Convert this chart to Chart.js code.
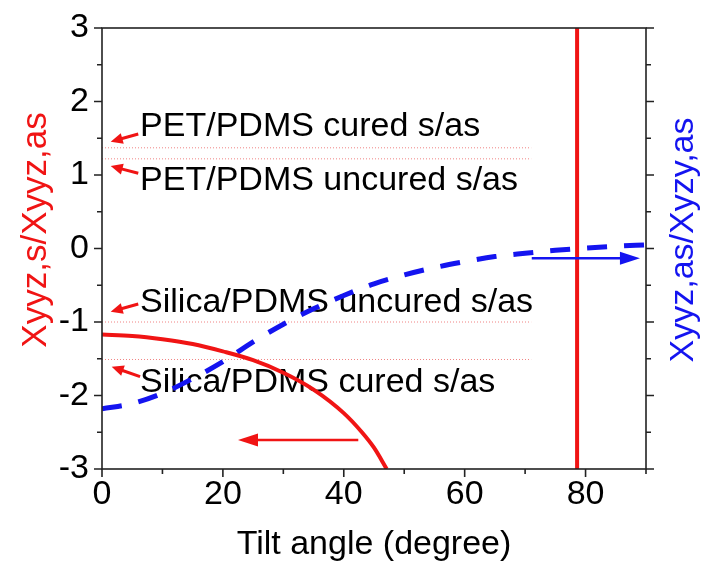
<!DOCTYPE html>
<html>
<head>
<meta charset="utf-8">
<script src="https://cdn.jsdelivr.net/npm/chart.js@4.4.1/dist/chart.umd.min.js"></script>
<style>
  html, body { margin: 0; padding: 0; background: #fff; }
  #wrap { width: 704px; height: 564px; }
</style>
</head>
<body>
<div id="wrap"><canvas id="c" width="704" height="564"></canvas></div>
<script>
// Symmetric / antisymmetric ratio (left axis), red solid curve
const sAngle = [0, 5, 10, 15, 20, 25, 30, 35, 40, 43, 45, 47.1];
const sRatio = [-1.17, -1.19, -1.235, -1.30, -1.40, -1.52, -1.69, -1.92, -2.24, -2.50, -2.71, -3.0];

// Antisymmetric ratio (right axis), blue dashed curve
const asAngle = [0, 5, 10, 15, 20, 25, 30, 35, 40, 45, 50, 55, 60, 65, 70, 75, 80, 85, 90];
const asRatio = [-2.18, -2.11, -1.97, -1.77, -1.54, -1.27, -1.03, -0.82, -0.64, -0.48, -0.36, -0.26, -0.18, -0.11, -0.065, -0.025, 0.005, 0.03, 0.05];

// Vertical marker line
const markerAngle = 78.6;

// Measured s/as levels (dotted reference lines)
const refLevels = [1.37, 1.22, -1.0, -1.51];
const refStart = 0;
const refEnd = 71;

// Sample labels
const sampleNames = ['PET/PDMS cured s/as', 'PET/PDMS uncured s/as', 'Silica/PDMS uncured s/as', 'Silica/PDMS cured s/as'];
const nameAngle = [6.3, 6.3, 6.3, 6.3];
const nameLevel = [1.53, 0.80, -0.86, -1.95];

// Pointer arrows: start -> tip
const arrowX0 = [6.0, 6.0, 6.0, 6.3, 42.4, 71.1];
const arrowY0 = [1.558, 1.023, -0.755, -1.744, -2.605, -0.133];
const arrowX1 = [1.44, 1.44, 1.44, 1.6, 22.5, 89.0];
const arrowY1 = [1.453, 1.122, -0.86, -1.608, -2.605, -0.133];
const arrowColor = ['#f01414', '#f01414', '#f01414', '#f01414', '#f01414', '#1414f0'];
const arrowSize = ['s', 's', 's', 's', 'l', 'l'];

// Axis ranges and ticks
const xRange = [0, 90];
const yRange = [-3, 3];
const xMajor = [0, 20, 40, 60, 80];
const xMinor = [10, 30, 50, 70, 90];
const yMajor = [-3, -2, -1, 0, 1, 2, 3];
const yMinor = [-2.5, -1.5, -0.5, 0.5, 1.5, 2.5];

const xTitle = 'Tilt angle (degree)';
const yTitle = 'Xyyz,s/Xyyz,as';
const y2Title = 'Xyyz,as/Xyzy,as';

const RED = '#f01414';
const BLUE = '#1414f0';
const FONT = '"Liberation Sans", Arial, sans-serif';

const pts = (xs, ys) => xs.map((x, i) => ({ x, y: ys[i] }));

const datasets = [
  { data: pts(sAngle, sRatio), yAxisID: 'y', borderColor: RED, borderWidth: 4, cubicInterpolationMode: 'monotone' },
  { data: [{ x: markerAngle, y: yRange[0] }, { x: markerAngle, y: yRange[1] }], yAxisID: 'y', borderColor: RED, borderWidth: 4 },
  { data: pts(asAngle, asRatio), yAxisID: 'y2', borderColor: BLUE, borderWidth: 5, borderDash: [20, 17], cubicInterpolationMode: 'monotone' }
];
refLevels.forEach(v => datasets.push({
  data: [{ x: refStart, y: v }, { x: refEnd, y: v }], yAxisID: 'y',
  borderColor: 'rgba(235,90,90,0.75)', borderWidth: 1, borderDash: [1, 2]
}));
datasets.forEach(d => { d.showLine = true; d.pointRadius = 0; d.fill = false; });

function drawArrow(ctx, x1, y1, x2, y2, color, big) {
  const len = big ? 20 : 12, half = big ? 6.5 : 5.5;
  const a = Math.atan2(y2 - y1, x2 - x1);
  const bx = x2 - len * Math.cos(a), by = y2 - len * Math.sin(a);
  ctx.save();
  ctx.strokeStyle = color; ctx.fillStyle = color; ctx.lineWidth = big ? 2.6 : 3;
  ctx.beginPath(); ctx.moveTo(x1, y1); ctx.lineTo(bx + 2 * Math.cos(a), by + 2 * Math.sin(a)); ctx.stroke();
  ctx.beginPath();
  ctx.moveTo(x2, y2);
  ctx.lineTo(bx - half * Math.sin(a), by + half * Math.cos(a));
  ctx.lineTo(bx + half * Math.sin(a), by - half * Math.cos(a));
  ctx.closePath(); ctx.fill();
  ctx.restore();
}

const decor = {
  id: 'decor',
  beforeDatasetsDraw(chart) {
    const { ctx, scales: { x, y } } = chart;
    ctx.save();
    ctx.fillStyle = '#000';
    ctx.font = '34px ' + FONT;
    ctx.textAlign = 'left';
    ctx.textBaseline = 'alphabetic';
    sampleNames.forEach((t, i) => ctx.fillText(t, x.getPixelForValue(nameAngle[i]), y.getPixelForValue(nameLevel[i])));
    ctx.restore();
  },
  afterDatasetsDraw(chart) {
    const { ctx, chartArea: a, scales: { x, y, y2 } } = chart;
    ctx.save();
    // frame
    ctx.strokeStyle = '#222'; ctx.lineWidth = 1.6;
    ctx.strokeRect(a.left, a.top, a.right - a.left, a.bottom - a.top);
    // ticks
    ctx.beginPath();
    xMajor.forEach(v => { const p = x.getPixelForValue(v); ctx.moveTo(p, a.bottom); ctx.lineTo(p, a.bottom + 8); });
    xMinor.forEach(v => { const p = x.getPixelForValue(v); ctx.moveTo(p, a.bottom); ctx.lineTo(p, a.bottom + 5); });
    yMajor.forEach(v => {
      const p = y.getPixelForValue(v);
      ctx.moveTo(a.left, p); ctx.lineTo(a.left - 8, p);
      ctx.moveTo(a.right, p); ctx.lineTo(a.right + 8, p);
    });
    yMinor.forEach(v => {
      const p = y.getPixelForValue(v);
      ctx.moveTo(a.left, p); ctx.lineTo(a.left - 5, p);
      ctx.moveTo(a.right, p); ctx.lineTo(a.right + 5, p);
    });
    ctx.stroke();
    // arrows
    arrowX0.forEach((v, i) => {
      const ys = i === 5 ? y2 : y;
      drawArrow(ctx, x.getPixelForValue(v), ys.getPixelForValue(arrowY0[i]),
        x.getPixelForValue(arrowX1[i]), ys.getPixelForValue(arrowY1[i]), arrowColor[i], arrowSize[i] === 'l');
    });
    // axis titles
    ctx.font = '34px ' + FONT;
    ctx.textAlign = 'center';
    ctx.textBaseline = 'alphabetic';
    ctx.fillStyle = '#000';
    ctx.fillText(xTitle, (a.left + a.right) / 2, 554);
    ctx.save(); ctx.translate(46, 230); ctx.rotate(-Math.PI / 2);
    ctx.font = '35px ' + FONT;
    ctx.fillStyle = RED; ctx.fillText(yTitle, 0, 0); ctx.restore();
    ctx.save(); ctx.translate(693, 240); ctx.rotate(-Math.PI / 2);
    ctx.fillStyle = BLUE; ctx.fillText(y2Title, 0, 0); ctx.restore();
    ctx.restore();
  }
};

new Chart(document.getElementById('c'), {
  type: 'scatter',
  data: { datasets },
  options: {
    responsive: false,
    animation: false,
    devicePixelRatio: 1,
    layout: { padding: { top: 28, left: 0, right: 0, bottom: 0 } },
    plugins: { legend: { display: false }, tooltip: { enabled: false } },
    scales: {
      x: {
        type: 'linear', min: xRange[0], max: xRange[1],
        border: { display: false },
        grid: { display: false, drawTicks: true, tickLength: 5 },
        ticks: {
          stepSize: 10, autoSkip: false, maxRotation: 0, padding: 0, color: '#000',
          font: { family: FONT, size: 34 },
          callback: v => (xMajor.includes(v) ? String(v) : '')
        },
        afterFit: s => { s.height = 95; }
      },
      y: {
        position: 'left', min: yRange[0], max: yRange[1],
        border: { display: false },
        grid: { display: false, drawTicks: true, tickLength: 8 },
        ticks: {
          stepSize: 0.5, autoSkip: false, padding: 5, color: '#000',
          font: { family: FONT, size: 34 },
          callback: v => (yMajor.includes(v) ? String(v) : '')
        },
        afterFit: s => { s.width = 102; }
      },
      y2: {
        position: 'right', min: yRange[0], max: yRange[1],
        border: { display: false },
        grid: { display: false },
        ticks: { display: false },
        afterFit: s => { s.width = 58; }
      }
    }
  },
  plugins: [decor]
});
</script>
</body>
</html>
